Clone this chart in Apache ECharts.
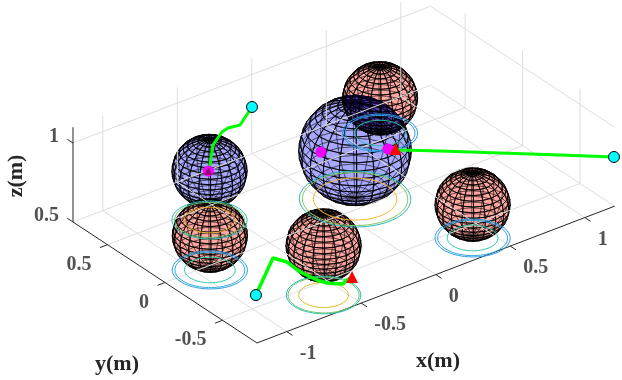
<!DOCTYPE html>
<html>
<head>
<meta charset="utf-8">
<script src="https://cdn.jsdelivr.net/npm/echarts@6/dist/echarts.min.js"></script>
<style>html,body{margin:0;padding:0;background:#fff}#main{width:622px;height:380px}</style>
</head>
<body>
<div id="main"></div>
<script>
// axis limits and ticks
const xLim = [-1.2, 1.2], yLim = [-0.8, 0.8], zLim = [0.5, 1.1];
const xTicks = [-1, -0.5, 0, 0.5, 1];
const yTicks = [-0.5, 0, 0.5];
const zTicks = [0.5, 1];

// spheres, back to front: x, y, z, radius, kind
const backRed  = [[0.677, 0.562, 0.72, 0.2, 0]];
const leftBlue = [[-0.608, 0.38, 0.81, 0.2, 1]];
const bigBlue  = [[0.145, 0.09, 0.807, 0.3, 1]];
const rightRed = [[0.392, -0.612, 0.712, 0.2, 0]];
const leftRed  = [[-0.929, -0.039, 0.718, 0.2, 0]];
const frontRed = [[-0.608, -0.612, 0.813, 0.2, 0]];

// contour rings on the floor: x, y, three radii
const ringCenters = [[0.677, 0.562], [-0.608, 0.38], [0.145, 0.09], [0.392, -0.612], [-0.929, -0.039], [-0.608, -0.612]];
const ringRadii = [
  [0.2, 0.186, 0.135],
  [0.2, 0.186, 0.135],
  [0.296, 0.28, 0.222],
  [0.2, 0.186, 0.135],
  [0.2, 0.186, 0.135],
  [0.198, 0.189, 0.132]
];
const ringColors = [
  ['#2a96e6', '#2f9fe4', '#2cc0b0'],
  ['#28b8b8', '#70c870', '#f6b52e'],
  ['#28b8b8', '#80c860', '#f8b830'],
  ['#2a9ee6', '#32a8e0', '#30c8a8'],
  ['#2a9ee6', '#32a8e0', '#30c8a8'],
  ['#20b8b0', '#70c878', '#d8c020']
];

// trajectories x, y, z
const path1 = [[-0.004, 0.793, 0.8], [-0.171, 0.681, 0.8], [-0.242, 0.694, 0.8], [-0.293, 0.68, 0.8], [-0.415, 0.6, 0.8], [-0.557, 0.442, 0.8], [-0.602, 0.397, 0.8]];
const path2 = [[1.209, -0.783, 0.8], [0.993, -0.594, 0.8], [0.751, -0.385, 0.8], [0.51, -0.176, 0.8], [0.346, -0.04, 0.8], [0.334, -0.017, 0.8]];
const path3 = [[-1.201, -0.792, 0.8], [-0.89, -0.537, 0.8], [-0.856, -0.615, 0.8], [-0.865, -0.74, 0.8], [-0.845, -0.862, 0.8], [-0.822, -0.919, 0.8], [-0.76, -0.978, 0.8], [-0.718, -0.958, 0.8], [-0.677, -0.949, 0.8]];
const magentaPoints = [[-0.602, 0.397, 0.8], [0.302, 0.007, 0.8], [-0.002, 0.196, 0.8]];

// view of the 3d box on the page
function project(x, y, z) {
  return [343.8 + 149 * x - 115 * y, 214.1 - 57 * x - 75.6 * y - 158 * (z - 0.5)];
}
const toView = p => project(p[0], p[1], p[2]);
const gap = ['-', '-'];

function segments(list) {
  const out = [];
  list.forEach(s => { out.push(toView(s[0]), toView(s[1]), gap); });
  return out;
}

const gridLines = [];
xTicks.forEach(t => {
  gridLines.push([[t, yLim[0], zLim[0]], [t, yLim[1], zLim[0]]]);
  gridLines.push([[t, yLim[1], zLim[0]], [t, yLim[1], zLim[1]]]);
});
yTicks.forEach(t => {
  gridLines.push([[xLim[0], t, zLim[0]], [xLim[1], t, zLim[0]]]);
  gridLines.push([[xLim[1], t, zLim[0]], [xLim[1], t, zLim[1]]]);
});
zTicks.forEach(t => {
  gridLines.push([[xLim[0], yLim[1], t], [xLim[1], yLim[1], t]]);
  gridLines.push([[xLim[1], yLim[1], t], [xLim[1], yLim[0], t]]);
});

const axisLines = [
  [[xLim[0], yLim[0], zLim[0]], [xLim[1], yLim[0], zLim[0]]],
  [[xLim[0], yLim[0], zLim[0]], [xLim[0], yLim[1], zLim[0]]],
  [[xLim[0], yLim[1], zLim[0]], [xLim[0], yLim[1], zLim[1]]]
];
xTicks.forEach(t => axisLines.push([[t, yLim[0], zLim[0]], [t, yLim[0] - 0.05, zLim[0]]]));
yTicks.forEach(t => axisLines.push([[xLim[0], t, zLim[0]], [xLim[0] - 0.05, t, zLim[0]]]));
zTicks.forEach(t => axisLines.push([[xLim[0], yLim[1], t], [xLim[0], yLim[1] + 0.05, t]]));

// z 2 so lines keep their place among the spheres, painted in series order
function lineSeries(data, color, width) {
  return {
    type: 'line', z: 2, data: data, symbol: 'none', silent: true, connectNulls: false,
    lineStyle: { color: color, width: width }
  };
}

function tickLabels(ticks, toPoint, pos, align) {
  return {
    type: 'scatter', symbolSize: 0, silent: true,
    data: ticks.map(t => ({ value: toView(toPoint(t)), name: String(t) })),
    label: {
      show: true, position: pos, align: align, verticalAlign: 'middle', formatter: '{b}',
      fontFamily: 'Liberation Serif', fontWeight: 'bold', fontSize: 20, color: '#262626'
    }
  };
}

function markers(points, symbol, size, color, border) {
  return {
    type: 'scatter', symbol: symbol, symbolSize: size, silent: true,
    data: points.map(toView),
    itemStyle: { color: color, borderColor: border, borderWidth: border ? 1 : 0, opacity: 1 }
  };
}

// one sphere as a wire mesh: far faces, near faces, far wires, near wires
const meshN = 20;
const faceColors = ['rgba(255,150,141,0.6)', 'rgba(146,146,255,0.55)', 'rgba(22,0,110,0.32)'];
const viewDir = [-0.525, -0.68, 0.51];
function sphereSeries(data, clipTo) {
  return {
    type: 'custom', silent: true, data: data,
    renderItem: function (params, api) {
      const cx = api.value(0), cy = api.value(1), cz = api.value(2), r = api.value(3);
      const fill = faceColors[api.value(4)];
      const point = (i, j) => {
        const lat = -Math.PI / 2 + Math.PI * i / meshN, lon = 2 * Math.PI * j / meshN;
        return [Math.cos(lat) * Math.cos(lon), Math.cos(lat) * Math.sin(lon), Math.sin(lat)];
      };
      const quads = [];
      for (let i = 0; i < meshN; i++) {
        for (let j = 0; j < meshN; j++) {
          const corners = [point(i, j), point(i, j + 1), point(i + 1, j + 1), point(i + 1, j)];
          const depth = corners.reduce((a, c) => a + c[0] * viewDir[0] + c[1] * viewDir[1] + c[2] * viewDir[2], 0);
          const pts = corners.map(c => api.coord(project(cx + r * c[0], cy + r * c[1], cz + r * c[2])));
          quads.push({ pts, depth });
        }
      }
      quads.sort((a, b) => a.depth - b.depth);
      const faces = quads.map(q => ({ type: 'polygon', shape: { points: q.pts }, style: { fill: fill, stroke: null } }));
      const wires = quads.map(q => ({
        type: 'polygon', shape: { points: q.pts },
        style: { fill: null, stroke: q.depth < 0 ? 'rgba(0,0,0,0.5)' : '#000', lineWidth: q.depth < 0 ? 0.7 : 0.8 }
      }));
      const group = { type: 'group', children: faces.concat(wires) };
      if (clipTo) {
        const c = api.coord(toView(clipTo));
        group.clipPath = { type: 'circle', shape: { cx: c[0], cy: c[1], r: clipTo[3] * 186 } };
      }
      return group;
    }
  };
}

const ringSeries = [];
ringCenters.forEach((c, i) => {
  ringRadii[i].forEach((r, k) => {
    const pts = [];
    for (let a = 0; a <= 72; a++) {
      const t = a / 72 * 2 * Math.PI;
      pts.push(project(c[0] + r * Math.cos(t), c[1] + r * Math.sin(t), zLim[0]));
    }
    ringSeries.push(lineSeries(pts, ringColors[i][k], 1));
  });
});

const chart = echarts.init(document.getElementById('main'), null, { renderer: 'canvas' });
chart.setOption({
  animation: false,
  backgroundColor: '#fff',
  grid: { left: 0, right: 0, top: 0, bottom: 0 },
  xAxis: { type: 'value', min: 0, max: 622, show: false },
  yAxis: { type: 'value', min: 0, max: 380, inverse: true, show: false },
  graphic: [
    { type: 'text', left: 416, top: 350, style: { text: 'x(m)', font: 'bold 22px "Liberation Serif"', fill: '#262626' } },
    { type: 'text', left: 95, top: 353, style: { text: 'y(m)', font: 'bold 22px "Liberation Serif"', fill: '#262626' } },
    { type: 'text', x: 16, y: 176, rotation: Math.PI / 2, style: { text: 'z(m)', font: 'bold 22px "Liberation Serif"', fill: '#262626', align: 'center', verticalAlign: 'middle' } }
  ],
  series: [
    lineSeries(segments(gridLines), '#dedede', 1),
    lineSeries(segments(axisLines), '#262626', 1),
    tickLabels(xTicks, t => [t, yLim[0], zLim[0]], [13, 22], 'left'),
    tickLabels(yTicks, t => [xLim[0], t, zLim[0]], [-16, 20], 'right'),
    tickLabels(zTicks, t => [xLim[0], yLim[1], t], [-14, -6], 'right'),
    ...ringSeries,
    sphereSeries(backRed),
    lineSeries(path1.map(toView), '#00ff00', 3),
    markers([path1[6]], 'circle', 11, '#ee00ff'),
    markers([path1[6]], 'triangle', 8, '#a00070'),
    sphereSeries(leftBlue),
    lineSeries(path2.map(toView), '#00ff00', 3),
    markers(magentaPoints.slice(1), 'circle', 11, '#ee00ff'),
    markers([path2[5]], 'triangle', 12, '#ff0000'),
    sphereSeries(bigBlue),
    sphereSeries(backRed.map(s => [s[0], s[1], s[2], s[3], 2]), bigBlue[0]),
    markers([path1[0]], 'circle', 11, '#00ffff', '#000'),
    markers([path2[0]], 'circle', 11, '#00ffff', '#000'),
    sphereSeries(rightRed),
    sphereSeries(leftRed),
    sphereSeries(frontRed),
    lineSeries(path3.map(toView), '#00ff00', 3.5),
    markers([path3[8]], 'triangle', 12, '#ff0000'),
    markers([path3[0]], 'circle', 11, '#00ffff', '#000')
  ]
});
</script>
</body>
</html>
